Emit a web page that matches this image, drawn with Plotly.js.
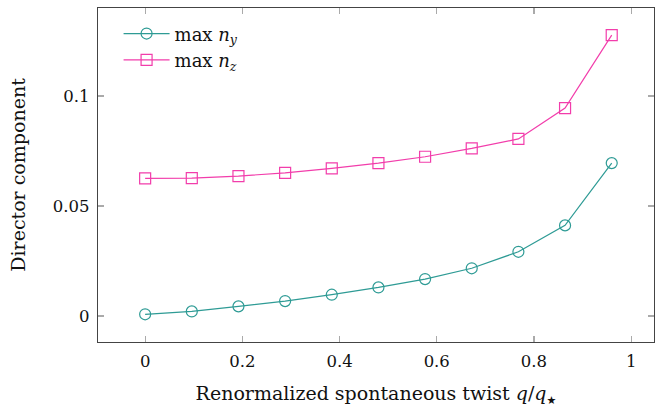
<!DOCTYPE html>
<html>
<head>
<meta charset="utf-8">
<script src="https://cdn.plot.ly/plotly-3.0.1.min.js"></script>
<style>html,body{margin:0;padding:0;background:#fff;}#chart{width:655px;height:407px;}</style>
</head>
<body>
<div id="chart"></div>
<script>
const twist = [0, 0.096, 0.192, 0.288, 0.384, 0.48, 0.576, 0.672, 0.768, 0.864, 0.96];
const maxNy = [0.0008, 0.0021, 0.0044, 0.0068, 0.0097, 0.0130, 0.0168, 0.0217, 0.0292, 0.0412, 0.0695];
const maxNz = [0.0626, 0.0627, 0.0636, 0.0651, 0.0671, 0.0695, 0.0724, 0.0762, 0.0805, 0.0945, 0.1277];
const xTicks = [0, 0.2, 0.4, 0.6, 0.8, 1];
const xTickText = ['0', '0.2', '0.4', '0.6', '0.8', '1'];
const yTicks = [0, 0.05, 0.1];
const yTickText = ['0', '0.05', '0.1'];

const teal = '#2e9b95';
const pink = '#f23dab';
const font = "'DejaVu Serif', 'Liberation Serif', serif";

const traces = [
  {x: twist, y: maxNy, mode: 'lines+markers', name: 'max <i>n</i><sub><i>y</i></sub>',
   line: {color: teal, width: 1.2},
   marker: {symbol: 'circle-open', size: 11, color: teal, line: {width: 1.2, color: teal}}},
  {x: twist, y: maxNz, mode: 'lines+markers', name: 'max <i>n</i><sub><i>z</i></sub>',
   line: {color: pink, width: 1.2},
   marker: {symbol: 'square-open', size: 11, color: pink, line: {width: 1.2, color: pink}}}
];

const axisCommon = {
  showgrid: false, zeroline: false, showline: true, mirror: 'ticks',
  linecolor: '#444', linewidth: 1.3, ticks: 'inside', ticklen: 6,
  tickcolor: '#aaa', tickwidth: 1.2, ticklabelstandoff: 4,
  tickfont: {family: font, size: 16.5, color: '#111'}
};

const layout = {
  width: 655, height: 407,
  margin: {l: 98, r: 1, t: 8, b: 65},
  paper_bgcolor: '#fff', plot_bgcolor: '#fff',
  font: {family: font, color: '#111'},
  showlegend: true,
  legend: {x: 0.037, y: 0.978, xanchor: 'left', yanchor: 'top', bgcolor: 'rgba(0,0,0,0)',
           font: {family: font, size: 18, color: '#111'}, tracegroupgap: 0, itemwidth: 46},
  xaxis: Object.assign({}, axisCommon, {
    range: [-0.097, 1.047], tickvals: xTicks, ticktext: xTickText,
    title: {text: 'Renormalized spontaneous twist <i>q</i>/<i>q</i><sub><span style="font-family:\'DejaVu Sans\';font-size:11px">★</span></sub>', font: {family: font, size: 19, color: '#111'}, standoff: 18}
  }),
  yaxis: Object.assign({}, axisCommon, {
    range: [-0.0118, 0.14], tickvals: yTicks, ticktext: yTickText,
    title: {text: 'Director component', font: {family: font, size: 19, color: '#111'}, standoff: 22}
  })
};

Plotly.newPlot('chart', traces, layout, {displayModeBar: false, staticPlot: true});
</script>
</body>
</html>
